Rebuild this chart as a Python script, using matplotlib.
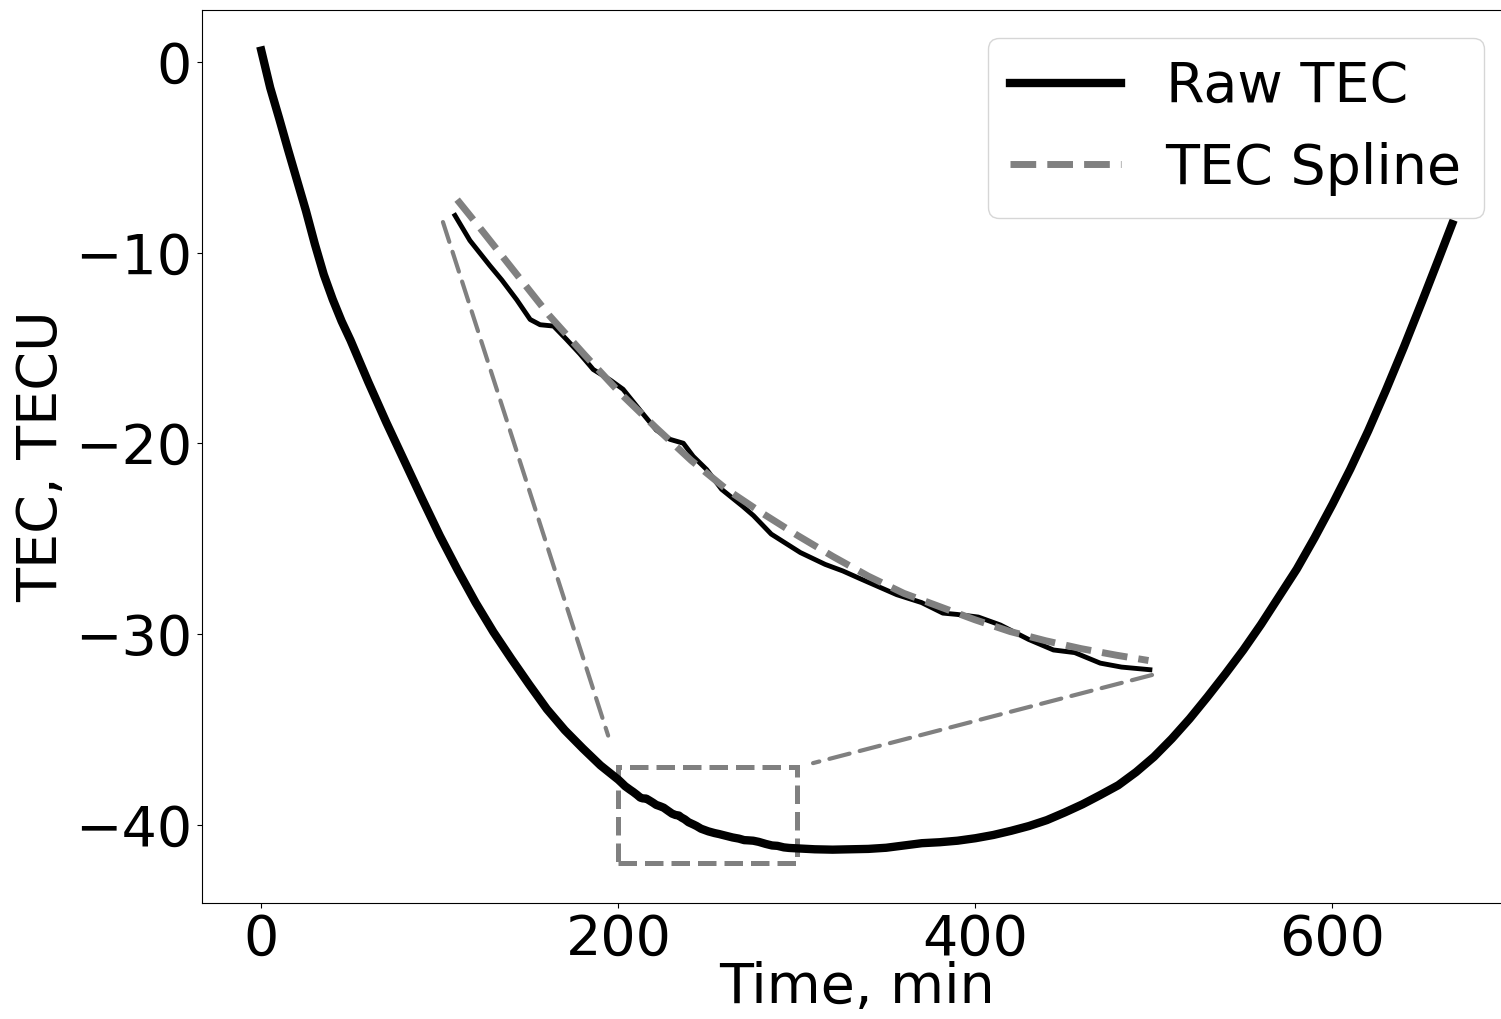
import numpy as np
import matplotlib
matplotlib.use("Agg")
import matplotlib.pyplot as plt
from matplotlib.patches import Rectangle, ConnectionPatch

# raw TEC (coarse outside the zoom window, fine inside it)
time_raw = [0, 5, 10, 15, 20, 25, 30, 35, 40, 45, 50, 60, 70, 80, 90, 100,
            110, 120, 130, 140, 150, 160, 170, 180, 190, 200,
            201.7, 203.8, 206.6, 208.3, 210.4, 212.3, 213.7, 215.6, 217.4, 219.3,
            221.2, 223.6, 225.4, 227.8, 230.1, 232.0, 233.9, 235.3, 237.2, 239.3,
            242.3, 243.8, 246.3, 250.4, 253.9, 256.4, 258.9, 264.0, 267.5, 270.5,
            272.5, 275.5, 278.6, 282.6, 286.1, 289.1, 292.7, 295.7, 299.7,
            310, 320, 330, 340, 350, 360, 370, 380, 390, 400, 410, 420, 430, 440,
            450, 460, 470, 480, 490, 500, 510, 520, 530, 540, 550, 560, 570, 580,
            590, 600, 610, 620, 630, 640, 650, 660, 667]
tec_raw = [0.6, -1.35, -2.95, -4.6, -6.2, -7.8, -9.55, -11.15, -12.45, -13.6, -14.6,
           -16.8, -18.9, -20.9, -22.9, -24.85, -26.65, -28.35, -29.9, -31.3, -32.65,
           -33.95, -35.05, -36.0, -36.9, -37.65,
           -37.80, -37.99, -38.18, -38.29, -38.44, -38.59, -38.63, -38.64, -38.74, -38.85,
           -38.97, -39.05, -39.12, -39.28, -39.43, -39.50, -39.53, -39.63, -39.73, -39.88,
           -40.01, -40.08, -40.22, -40.36, -40.45, -40.50, -40.56, -40.68, -40.74, -40.82,
           -40.83, -40.85, -40.91, -41.02, -41.10, -41.12, -41.20, -41.23, -41.25,
           -41.30, -41.32, -41.30, -41.28, -41.22, -41.10, -40.98, -40.93, -40.85, -40.72,
           -40.55, -40.33, -40.08, -39.77, -39.37, -38.94, -38.45, -37.94, -37.25, -36.45,
           -35.5, -34.45, -33.3, -32.1, -30.85, -29.5, -28.05, -26.6, -24.95, -23.2,
           -21.35, -19.35, -17.2, -14.95, -12.6, -10.2, -8.5]

# spline in the zoom window
time_spline = [202, 205, 210, 215, 220, 225, 230, 235, 240, 245, 250,
               255, 260, 265, 270, 275, 280, 285, 290, 295, 299.5]
tec_spline = [-37.68, -37.88, -38.22, -38.56, -38.86, -39.15, -39.41, -39.66,
              -39.88, -40.06, -40.23, -40.39, -40.54, -40.67, -40.77, -40.87,
              -40.96, -41.03, -41.09, -41.14, -41.18]

zoom_x = (200, 300)
zoom_y = (-42, -37)

plt.rcParams['font.size'] = 40

fig = plt.figure(figsize=(15.01, 10.19), dpi=100)
ax = fig.add_axes([0.1344, 0.1138, 0.8727, 0.8764])

t = np.array(time_raw)
v = np.array(tec_raw)
raw_line, = ax.plot(t, v, color='black', lw=6, label='Raw TEC')
ax.set_xlim(-33.35, 700.35)
ax.set_ylim(-44.12, 2.73)
ax.set_xlabel('Time, min', labelpad=-4)
ax.set_ylabel('TEC, TECU')

# zoomed window
axins = fig.add_axes([0.2951, 0.3376, 0.4724, 0.4445])
axins.patch.set_alpha(0)
axins.axis('off')
mask = (t > zoom_x[0]) & (t < zoom_x[1])
axins.plot(t[mask], v[mask], color='black', lw=3.5, clip_on=False)
spl_line, = axins.plot(time_spline, tec_spline, color='gray', lw=5, ls='--',
                       clip_on=False, label='TEC Spline')
axins.set_xlim(200, 300)
axins.set_ylim(-41.29, -37.85)

rect = Rectangle((zoom_x[0], zoom_y[0]), zoom_x[1] - zoom_x[0], zoom_y[1] - zoom_y[0],
                 fill=False, ec='gray', lw=3.6, ls='--')
ax.add_patch(rect)

con1 = ConnectionPatch(xyA=(0, 1), coordsA=axins.transAxes,
                       xyB=(zoom_x[0], zoom_y[1]), coordsB=ax.transData,
                       color='gray', lw=3, ls=(0, (5, 2.5)), shrinkB=24)
con2 = ConnectionPatch(xyA=(1, 0), coordsA=axins.transAxes,
                       xyB=(zoom_x[1], zoom_y[1]), coordsB=ax.transData,
                       color='gray', lw=3, ls=(0, (5, 2.5)), shrinkB=12)
fig.add_artist(con1)
fig.add_artist(con2)

leg = ax.legend([raw_line, spl_line], ['Raw TEC', 'TEC Spline'], loc='upper right')
leg.set_zorder(10)

fig.savefig('out.png', dpi=100)
